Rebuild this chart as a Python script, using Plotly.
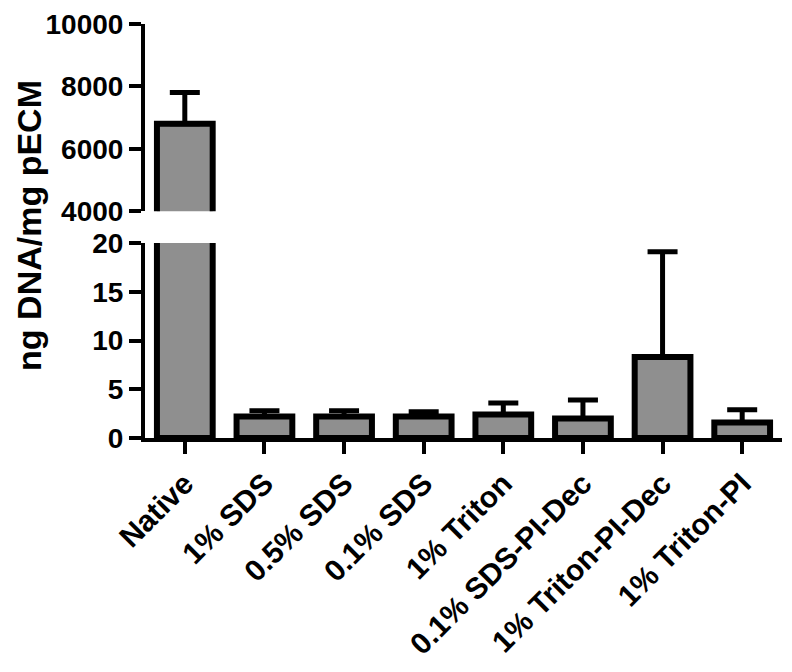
import plotly.graph_objects as go

categories = ["Native", "1% SDS", "0.5% SDS", "0.1% SDS", "1% Triton",
              "0.1% SDS-PI-Dec", "1% Triton-PI-Dec", "1% Triton-PI"]
dna_mean = [6800, 2.2, 2.2, 2.2, 2.4, 2.0, 8.3, 1.6]
dna_err = [1000, 0.6, 0.6, 0.5, 1.2, 1.9, 10.8, 1.3]

top_ticks = [4000, 6000, 8000, 10000]
bottom_ticks = [0, 5, 10, 15, 20]

BAR = "#8f8f8f"
FAMILY = "Liberation Sans, Arial, sans-serif"
YFONT = dict(family=FAMILY, size=28, color="black", weight="bold")
XFONT = dict(family=FAMILY, size=30, color="black", weight="bold")
TFONT = dict(family=FAMILY, size=34, color="black", weight="bold")

xpos = list(range(len(categories)))

fig = go.Figure()

# same bars drawn in both panels; each panel's range clips what it should not show
for xa, ya in [("x", "y"), ("x2", "y2")]:
    fig.add_trace(go.Bar(
        x=xpos,
        y=dna_mean,
        xaxis=xa,
        yaxis=ya,
        width=0.7,
        marker=dict(color=BAR, line=dict(color="black", width=6)),
        error_y=dict(type="data", symmetric=False, array=dna_err,
                     arrayminus=[0] * len(dna_err),
                     color="black", thickness=5, width=15),
        showlegend=False,
    ))

axis_common = dict(showline=True, linecolor="black", linewidth=4,
                   showgrid=False, zeroline=False, ticks="outside",
                   ticklen=12, tickwidth=4, tickcolor="black",
                   automargin=False, ticklabeloverflow="allow")

fig.update_layout(
    width=792,
    height=672,
    margin=dict(l=137, r=18, t=16, b=242),
    plot_bgcolor="white",
    paper_bgcolor="white",
    xaxis=dict(range=[-0.5, 7.5], domain=[0, 1], anchor="y",
               tickmode="array", tickvals=xpos, ticktext=categories,
               tickangle=-45, tickfont=XFONT, **axis_common),
    xaxis2=dict(range=[-0.5, 7.5], domain=[0, 1], anchor="y2",
                visible=False, matches="x"),
    yaxis=dict(range=[0, 20], domain=[0, 0.471], anchor="x",
               tickmode="array", tickvals=bottom_ticks,
               ticktext=[str(v) for v in bottom_ticks],
               tickfont=YFONT, **axis_common),
    yaxis2=dict(range=[4000, 10000], domain=[0.548, 1], anchor="x2",
                tickmode="array", tickvals=top_ticks,
                ticktext=[str(v) for v in top_ticks],
                tickfont=YFONT, **axis_common),
)

fig.add_annotation(
    text="ng DNA/mg pECM",
    xref="paper", yref="paper",
    x=-0.181, y=0.514,
    xanchor="center", yanchor="middle",
    textangle=-90,
    showarrow=False,
    font=TFONT,
)

fig.write_html("out.html")
